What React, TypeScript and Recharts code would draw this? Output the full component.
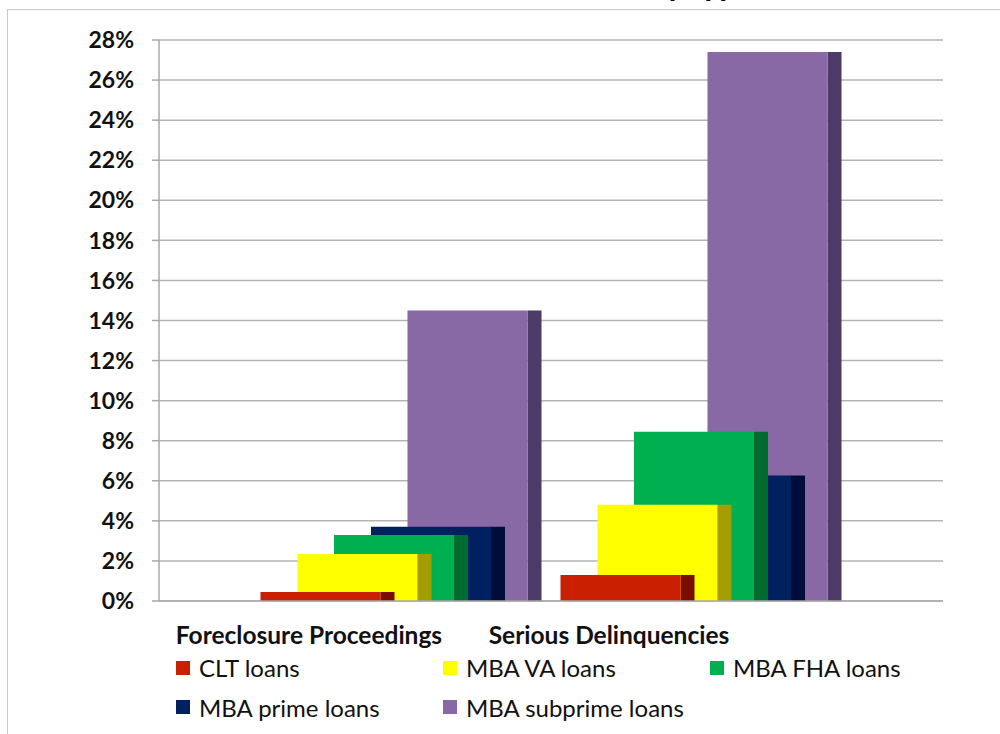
import { BarChart, Bar, XAxis, YAxis, CartesianGrid, Legend, Rectangle } from 'recharts'

const categories = ['Foreclosure Proceedings', 'Serious Delinquencies']
const cltLoans = [0.45, 1.3]
const vaLoans = [2.35, 4.8]
const fhaLoans = [3.3, 8.45]
const primeLoans = [3.7, 6.27]
const subprimeLoans = [14.5, 27.4]
const yTicks = [0, 2, 4, 6, 8, 10, 12, 14, 16, 18, 20, 22, 24, 26, 28]
const legendOrder = ['CLT loans', 'MBA VA loans', 'MBA FHA loans', 'MBA prime loans', 'MBA subprime loans']

const chartData = categories.map((name, i) => ({
  name,
  clt: cltLoans[i],
  va: vaLoans[i],
  fha: fhaLoans[i],
  prime: primeLoans[i],
  subprime: subprimeLoans[i]
}))

// Back to front. Each series gets its own hidden axis so the bars can overlap like the 3D original
const seriesList = [
  { key: 'subprime', label: 'MBA subprime loans', fill: '#8869A5', side: '#4E3A67', left: 158.5, right: 25.5 },
  { key: 'prime', label: 'MBA prime loans', fill: '#002060', side: '#000C3A', left: 122, right: 62 },
  { key: 'fha', label: 'MBA FHA loans', fill: '#00B050', side: '#006B30', left: 85, right: 99 },
  { key: 'va', label: 'MBA VA loans', fill: '#FFFF00', side: '#A39E00', left: 48.5, right: 135.5 },
  { key: 'clt', label: 'CLT loans', fill: '#C82000', side: '#7A0C00', left: 11.5, right: 172.5 }
]

const FONT = 'Lato, sans-serif'
const SIDE_WIDTH = 14

const Block = (props: any) => {
  const { x, y, width, height, fill, side } = props
  return (
    <g>
      <Rectangle x={x + width} y={y} width={SIDE_WIDTH} height={height} fill={side} />
      <Rectangle x={x} y={y} width={width} height={height} fill={fill} />
    </g>
  )
}

const renderLegend = (props: any) => {
  const items = legendOrder.map(label => props.payload.find((p: any) => p.value === label)).filter(Boolean)
  return (
    <div
      style={{
        display: 'grid',
        gridTemplateColumns: '267px 267px 260px',
        gridAutoRows: '39.5px',
        fontFamily: FONT,
        fontSize: 24,
        color: '#111'
      }}
    >
      {items.map((item: any) => (
        <div key={item.value} style={{ display: 'flex', alignItems: 'center', whiteSpace: 'nowrap' }}>
          <span style={{ width: 14, height: 14, marginRight: 9, background: item.color }} />
          {item.value}
        </div>
      ))}
    </div>
  )
}

export default function App() {
  return (
    <div style={{ position: 'absolute', left: 0, top: 0, width: 1000, height: 734, overflow: 'hidden', background: '#fff' }}>
      <div
        style={{
          position: 'absolute',
          left: 7,
          top: 9,
          width: 1100,
          height: 800,
          borderLeft: '1px solid #c8c8c8',
          borderTop: '1px solid #c8c8c8'
        }}
      />
      <BarChart
        width={1000}
        height={734}
        data={chartData}
        margin={{ top: 40, right: 57, bottom: 103, left: 59 }}
        style={{ position: 'absolute', left: 0, top: 0 }}
      >
        <CartesianGrid vertical={false} stroke="#b4b4b4" strokeWidth={1.5} xAxisId="labels" />
        {/* carries the category labels, which sit left of their bars in the original */}
        <XAxis
          xAxisId="labels"
          dataKey="name"
          padding={{ left: 0, right: 184 }}
          interval={0}
          height={30}
          tickLine={false}
          tickMargin={20}
          axisLine={{ stroke: '#a8a8a8', strokeWidth: 1.5 }}
          tick={{ fontFamily: FONT, fontSize: 24.5, fontWeight: 700, fill: '#111' }}
        />
        {seriesList.map(s => (
          <XAxis key={s.key} xAxisId={s.key} dataKey="name" hide height={0} padding={{ left: s.left, right: s.right }} />
        ))}
        <YAxis
          domain={[0, 28]}
          ticks={yTicks}
          width={100}
          tickSize={7}
          tickMargin={18}
          interval={0}
          tickFormatter={(v: number) => `${v}%`}
          axisLine={{ stroke: '#a8a8a8', strokeWidth: 1.5 }}
          tickLine={{ stroke: '#a8a8a8', strokeWidth: 1.5 }}
          tick={{ fontFamily: FONT, fontSize: 23, fontWeight: 700, fill: '#111' }}
        />
        <Legend
          verticalAlign="middle"
          content={renderLegend}
          wrapperStyle={{ left: 176, top: 648, width: 810 }}
        />
        {seriesList.map(s => (
          <Bar
            key={s.key}
            dataKey={s.key}
            name={s.label}
            xAxisId={s.key}
            fill={s.fill}
            barSize={120}
            isAnimationActive={false}
            shape={(p: any) => <Block {...p} side={s.side} />}
          />
        ))}
        {/* title of the original is cut off by the top of the picture */}
        <text x={649} y={-4} fontFamily={FONT} fontSize={32} fontWeight={700} fill="#000">
          by type
        </text>
      </BarChart>
    </div>
  )
}
